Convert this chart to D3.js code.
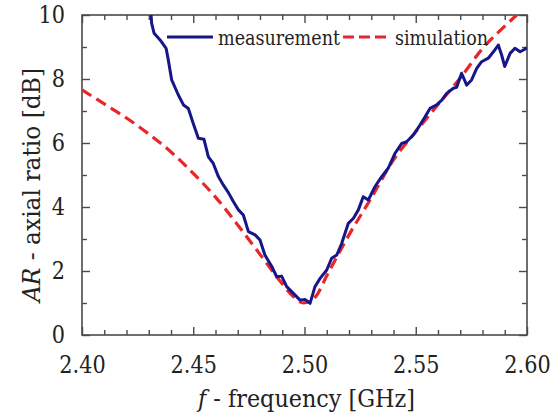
<!DOCTYPE html>
<html>
<head>
<meta charset="utf-8">
<script src="https://cdn.jsdelivr.net/npm/d3@7"></script>
<style>
  html, body { margin: 0; padding: 0; background: #fff; }
  svg { display: block; }
</style>
</head>
<body>
<svg id="chart" width="558" height="416"></svg>
<script>
// ---- data ----
const simFreq = [2.400, 2.410, 2.420, 2.430, 2.440, 2.450, 2.460, 2.470, 2.480, 2.490, 2.495, 2.4995, 2.505, 2.510, 2.520, 2.530, 2.540, 2.550, 2.560, 2.570, 2.580, 2.590, 2.600];
const simAR   = [7.66, 7.22, 6.78, 6.28, 5.72, 5.05, 4.31, 3.44, 2.52, 1.60, 1.20, 1.00, 1.20, 1.85, 3.13, 4.28, 5.47, 6.35, 7.20, 8.03, 8.95, 9.65, 10.30];

const measFreq = [2.4309, 2.4313, 2.4324, 2.4351, 2.4378, 2.4388, 2.4403, 2.4433, 2.4456, 2.4478, 2.4500, 2.4523, 2.4548, 2.4568, 2.4590, 2.4613, 2.4635, 2.4658, 2.4680, 2.4703, 2.4725, 2.4748, 2.4778, 2.4800, 2.4822, 2.4853, 2.4875, 2.4897, 2.4920, 2.4950, 2.4980, 2.5002, 2.5025, 2.5047, 2.5070, 2.5100, 2.5122, 2.5145, 2.5167, 2.5197, 2.5220, 2.5242, 2.5264, 2.5287, 2.5317, 2.5347, 2.5376, 2.5407, 2.5437, 2.5459, 2.5489, 2.5519, 2.5542, 2.5564, 2.5594, 2.5617, 2.5639, 2.5669, 2.5684, 2.5706, 2.5729, 2.5751, 2.5774, 2.5796, 2.5826, 2.5849, 2.5871, 2.5886, 2.5900, 2.5924, 2.5946, 2.5969, 2.5990, 2.6000];
const measAR   = [10.16, 9.74, 9.43, 9.22, 8.96, 8.59, 7.97, 7.50, 7.19, 7.08, 6.61, 6.15, 6.12, 5.57, 5.36, 4.95, 4.69, 4.45, 4.17, 3.91, 3.75, 3.23, 3.13, 2.97, 2.50, 2.14, 1.82, 1.84, 1.51, 1.30, 1.09, 1.11, 0.99, 1.51, 1.77, 2.03, 2.40, 2.50, 2.86, 3.49, 3.65, 3.91, 4.32, 4.22, 4.64, 4.95, 5.21, 5.68, 5.99, 6.04, 6.25, 6.56, 6.82, 7.08, 7.19, 7.34, 7.55, 7.71, 7.74, 8.18, 7.81, 7.97, 8.33, 8.54, 8.65, 8.85, 9.06, 8.75, 8.39, 8.80, 8.96, 8.85, 8.93, 8.98];

const xMajor = [2.40, 2.45, 2.50, 2.55, 2.60];
const xMinor = [2.41, 2.42, 2.43, 2.44, 2.46, 2.47, 2.48, 2.49, 2.51, 2.52, 2.53, 2.54, 2.56, 2.57, 2.58, 2.59];
const yMajor = [0, 2, 4, 6, 8, 10];
const yMinor = [1, 3, 5, 7, 9];

const seriesNames = ["measurement", "simulation"];
const xTitle = ["f", " - frequency [GHz]"];
const yTitle = ["AR", " - axial ratio [dB]"];

// ---- layout ----
const L = 82, R = 527, T = 15, B = 335;
const blue = "#16168a", red = "#e8262a", axisCol = "#4a4a4a";
const FONT = "DejaVu Serif";
// approximate Times-like advance widths (em) to condense the serif glyphs
const digitLen = s => [...s].reduce((a, c) => a + (c === "." ? 0.25 : 0.5), 0) * 26.5;

const svg = d3.select("#chart").attr("font-family", FONT);
const x = d3.scaleLinear().domain([2.40, 2.60]).range([L, R]);
const y = d3.scaleLinear().domain([0, 10]).range([B, T]);

svg.append("defs").append("clipPath").attr("id", "clip")
  .append("rect").attr("x", L).attr("y", T).attr("width", R - L).attr("height", B - T);

function styleAxis(g) {
  g.attr("font-family", FONT);
  g.select(".domain").remove();
  g.selectAll("line").attr("stroke", axisCol).attr("stroke-width", 1.4);
  g.selectAll("text").attr("font-size", 24.5).attr("fill", "#222").attr("font-family", FONT)
    .each(function () {
      const t = d3.select(this).text();
      if (t) d3.select(this).attr("textLength", digitLen(t)).attr("lengthAdjust", "spacingAndGlyphs");
    });
}

svg.append("g").attr("transform", `translate(0,${B})`)
  .call(d3.axisBottom(x).tickValues(xMajor).tickSize(-8).tickPadding(21).tickFormat(d3.format(".2f")))
  .call(styleAxis);
svg.append("g").attr("transform", `translate(0,${B})`)
  .call(d3.axisBottom(x).tickValues(xMinor).tickSize(-5).tickFormat(""))
  .call(styleAxis);
svg.append("g").attr("transform", `translate(0,${T})`)
  .call(d3.axisTop(x).tickValues(xMajor).tickSize(-8).tickFormat(""))
  .call(styleAxis);
svg.append("g").attr("transform", `translate(0,${T})`)
  .call(d3.axisTop(x).tickValues(xMinor).tickSize(-5).tickFormat(""))
  .call(styleAxis);
svg.append("g").attr("transform", `translate(${L},0)`)
  .call(d3.axisLeft(y).tickValues(yMajor).tickSize(-8).tickPadding(17).tickFormat(d3.format("d")))
  .call(styleAxis);
svg.append("g").attr("transform", `translate(${L},0)`)
  .call(d3.axisLeft(y).tickValues(yMinor).tickSize(-5).tickFormat(""))
  .call(styleAxis);
svg.append("g").attr("transform", `translate(${R},0)`)
  .call(d3.axisRight(y).tickValues(yMajor).tickSize(-8).tickFormat(""))
  .call(styleAxis);
svg.append("g").attr("transform", `translate(${R},0)`)
  .call(d3.axisRight(y).tickValues(yMinor).tickSize(-5).tickFormat(""))
  .call(styleAxis);

svg.append("rect").attr("x", L).attr("y", T).attr("width", R - L).attr("height", B - T)
  .attr("fill", "none").attr("stroke", axisCol).attr("stroke-width", 1.6);

const plot = svg.append("g").attr("clip-path", "url(#clip)");
plot.append("path")
  .datum(simFreq.map((f, i) => [f, simAR[i]]))
  .attr("d", d3.line().x(d => x(d[0])).y(d => y(d[1])).curve(d3.curveMonotoneX))
  .attr("fill", "none").attr("stroke", red).attr("stroke-width", 3.2)
  .attr("stroke-dasharray", "11,6");
plot.append("path")
  .datum(measFreq.map((f, i) => [f, measAR[i]]))
  .attr("d", d3.line().x(d => x(d[0])).y(d => y(d[1])).curve(d3.curveLinear))
  .attr("fill", "none").attr("stroke", blue).attr("stroke-width", 3)
  .attr("stroke-linejoin", "round");

const lg = svg.append("g");
lg.append("line").attr("x1", 167).attr("x2", 213).attr("y1", 37).attr("y2", 37)
  .attr("stroke", blue).attr("stroke-width", 3);
lg.append("text").attr("x", 218).attr("y", 45).attr("font-size", 20).attr("fill", "#222")
  .attr("textLength", 122).attr("lengthAdjust", "spacingAndGlyphs").text(seriesNames[0]);
lg.append("line").attr("x1", 343).attr("x2", 391).attr("y1", 37).attr("y2", 37)
  .attr("stroke", red).attr("stroke-width", 3.2).attr("stroke-dasharray", "11,5");
lg.append("text").attr("x", 395).attr("y", 45).attr("font-size", 20).attr("fill", "#222")
  .attr("textLength", 93).attr("lengthAdjust", "spacingAndGlyphs").text(seriesNames[1]);

const xt = svg.append("text").attr("x", 198).attr("y", 407).attr("fill", "#222")
  .attr("font-size", 25).attr("textLength", 217).attr("lengthAdjust", "spacingAndGlyphs");
xt.append("tspan").attr("font-style", "italic").text(xTitle[0]);
xt.append("tspan").text(xTitle[1]);

const yt = svg.append("text").attr("fill", "#222")
  .attr("transform", `translate(40,302) rotate(-90)`)
  .attr("font-size", 25).attr("textLength", 234).attr("lengthAdjust", "spacingAndGlyphs");
yt.append("tspan").attr("font-style", "italic").text(yTitle[0]);
yt.append("tspan").text(yTitle[1]);
</script>
</body>
</html>
